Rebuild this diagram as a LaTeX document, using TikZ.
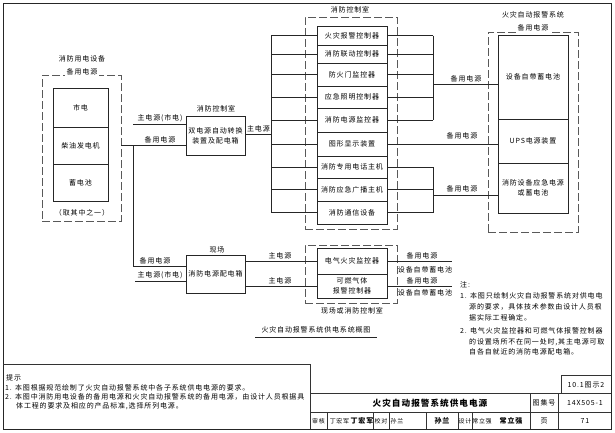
\documentclass[tikz,border=0pt]{standalone}
\usepackage{fontspec}
\setmainfont{Noto Sans CJK SC}[LetterSpace=12]
\newcommand\fs{\fontsize{7}{9}\selectfont}
\newcommand\sfsz{\fontsize{6}{7}\selectfont}
\newcommand\ttlfs{\fontsize{8.6}{10}\selectfont}
\begin{document}
\begin{tikzpicture}[x=1pt,y=-1pt,
  box/.style={draw=black!85, line width=0.9pt, inner sep=0pt, align=center, font=\fs},
  dbox/.style={draw=black!65, dash pattern=on 8pt off 3pt, line width=0.6pt, inner sep=0pt},
  ln/.style={draw=black!85, line width=0.9pt},
  tb/.style={draw=black!80, line width=0.6pt},
  lbl/.style={font=\fs, inner sep=0pt},
  sm/.style={font=\sfsz, inner sep=0pt},
  sig/.style={font=\fs\bfseries, inner sep=0pt},
  gap/.style={font=\fs, fill=white, inner xsep=2pt, inner ysep=2.5pt},
  note/.style={font=\fs, inner sep=0pt, anchor=west}]
\useasboundingbox (0,0) rectangle (615,432);
\fill[white] (0,0) rectangle (615,432);
% outer frame
\draw[draw=black!85, line width=1pt] (3,3) rectangle (611,429);

% ---------- dashed groups ----------
\node[dbox, minimum width=79pt, minimum height=146pt] (lgrp) at (81.5,148) {};
\node[dbox, minimum width=92pt, minimum height=212pt] (cgrp) at (351,123) {};
\node[dbox, minimum width=90pt, minimum height=200pt] (rgrp) at (533,132) {};
\node[dbox, minimum width=92pt, minimum height=58pt] (sgrp) at (351,274) {};

\node[lbl] (lt1) at (82,59) {消防用电设备};
\node[gap] (lt2) at (82,72) {备用电源};
\node[lbl] (lt3) at (82,213) {（取其中之一）};
\node[lbl] (ct) at (350,10) {消防控制室};
\node[lbl] (rt1) at (533,15) {火灾自动报警系统};
\node[gap] (rt2) at (533,28) {备用电源};
\node[lbl] (st) at (352,311) {现场或消防控制室};

% ---------- left power sources ----------
\node[box, minimum width=55pt, minimum height=39pt] (m1) at (80.5,107.5) {市电};
\node[box, minimum width=55pt, minimum height=37pt] (m2) at (80.5,145.5) {柴油发电机};
\node[box, minimum width=55pt, minimum height=37pt] (m3) at (80.5,182.5) {蓄电池};

% ---------- switch boxes ----------
\node[box, minimum width=59pt, minimum height=39pt] (dual) at (215.5,135.5) {双电源自动转换\\[1pt]装置及配电箱};
\node[lbl] (dualt) at (216,109) {消防控制室};
\node[box, minimum width=59pt, minimum height=38pt] (site) at (215.5,274) {消防电源配电箱};
\node[lbl] (sitet) at (217,250) {现场};

% ---------- control room rows ----------
\node[box, minimum width=70pt, minimum height=19pt] (r1) at (352,35.5) {火灾报警控制器};
\node[box, minimum width=70pt, minimum height=18pt] (r2) at (352,54) {消防联动控制器};
\node[box, minimum width=70pt, minimum height=23pt] (r3) at (352,74.5) {防火门监控器};
\node[box, minimum width=70pt, minimum height=22pt] (r4) at (352,97) {应急照明控制器};
\node[box, minimum width=70pt, minimum height=24pt] (r5) at (352,120) {消防电源监控器};
\node[box, minimum width=70pt, minimum height=24pt] (r6) at (352,144) {图形显示装置};
\node[box, minimum width=70pt, minimum height=22pt] (r7) at (352,167) {消防专用电话主机};
\node[box, minimum width=70pt, minimum height=23pt] (r8) at (352,189.5) {消防应急广播主机};
\node[box, minimum width=70pt, minimum height=23pt] (r9) at (352,212.5) {消防通信设备};

% ---------- right backup sources ----------
\node[box, minimum width=70pt, minimum height=84pt] (b1) at (533,77) {设备自带蓄电池};
\node[box, minimum width=70pt, minimum height=44pt] (b2) at (533,141) {UPS电源装置};
\node[box, minimum width=70pt, minimum height=50pt] (b3) at (533,188) {消防设备应急电源\\[1pt]或蓄电池};

% ---------- site devices ----------
\node[box, minimum width=70pt, minimum height=26pt] (efm) at (352,261) {电气火灾监控器};
\node[box, minimum width=70pt, minimum height=24pt] (gas) at (352,286) {可燃气体\\[1pt]报警控制器};

% ---------- connectors: left ----------
\coordinate (J) at (133,145);
\coordinate (J2) at (133,266);
\coordinate (M1) at (133,124);
\coordinate (M2) at (135,281);
\draw[ln] (lgrp.east |- J) -- (dual.west |- J);
\draw[ln] (J) -- (J2) -- (site.west |- J2);
\draw[ln] (M1) -- (dual.west |- M1);
\draw[ln] (M2) -- (site.west |- M2);
\node[lbl] (l1) at (160,118) {主电源(市电)};
\node[lbl] (l2) at (160,140) {备用电源};
\node[lbl] (l3) at (155,261) {备用电源};
\node[lbl] (l4) at (160,275) {主电源(市电)};

% ---------- connectors: bus ----------
\coordinate (B) at (271,134);
\draw[ln] (dual.east |- B) -- (B);
\node[lbl] (l5) at (258.5,129) {主电源};
\draw[ln] (B |- r1.west) -- (B |- r9.west);
\foreach \r in {r1,r2,r3,r4,r5,r6,r7,r8,r9}
  \draw[ln] (B |- \r.west) -- (\r.west);

% ---------- connectors: right ----------
\coordinate (RA) at (433,84);
\coordinate (RB) at (433,195);
\foreach \r in {r1,r2,r3,r4,r5}
  \draw[ln] (\r.east) -- (RA |- \r.east);
\foreach \r in {r7,r8,r9}
  \draw[ln] (\r.east) -- (RB |- \r.east);
\draw[ln] (RA |- r1.east) -- (RA |- r5.east);
\draw[ln] (RB |- r7.east) -- (RB |- r9.east);
\draw[ln] (RA) -- (b1.west |- RA);
\draw[ln] (r6.east) -- (b2.west |- r6.east);
\draw[ln] (RB) -- (b3.west |- RB);
\node[lbl] (l6) at (466,79) {备用电源};
\node[lbl] (l7) at (462,136) {备用电源};
\node[lbl] (l8) at (462,189) {备用电源};

% ---------- connectors: site ----------
\draw[ln] (site.east |- efm.west) -- (efm.west);
\draw[ln] (site.east |- gas.west) -- (gas.west);
\node[lbl] (l9) at (280,256) {主电源};
\node[lbl] (l10) at (280,281) {主电源};
\coordinate (E1) at (452,261);
\coordinate (E2) at (452,286);
\draw[ln] (efm.east) -- (E1);
\draw[ln] (gas.east) -- (E2);
\node[lbl] (l11) at (422,256) {备用电源};
\node[lbl] (l12) at (425,270) {设备自带蓄电池};
\node[lbl] (l13) at (422,281) {备用电源};
\node[lbl] (l14) at (425,293) {设备自带蓄电池};

% ---------- caption ----------
\node[lbl] (cap) at (316,330) {火灾自动报警系统供电系统概图};
\draw[ln] (255,337) -- (377,337);

% ---------- notes ----------
\node[note] (n0) at (460,285) {注:};
\node[note] (n1) at (460,296) {1. 本图只绘制火灾自动报警系统对供电电};
\node[note] (n2) at (469,307) {源的要求，具体技术参数由设计人员根};
\node[note] (n3) at (469,318) {据实际工程确定。};
\node[note] (n4) at (460,331) {2. 电气火灾监控器和可燃气体报警控制器};
\node[note] (n5) at (469,342) {的设置场所不在同一处时,其主电源可取};
\node[note] (n6) at (469,352) {自各自就近的消防电源配电箱。};

% ---------- hint box ----------
\draw[tb] (3,364) -- (310,364) -- (310,429);
\node[note] (h0) at (6,378) {提示};
\node[note] (h1) at (5,388) {1. 本图根据规范绘制了火灾自动报警系统中各子系统供电电源的要求。};
\node[note] (h2) at (5,397) {2. 本图中消防用电设备的备用电源和火灾自动报警系统的备用电源，由设计人员根据具};
\node[note] (h3) at (16,406) {体工程的要求及相应的产品标准,选择所列电源。};

% ---------- title block ----------
\draw[tb] (310,393) -- (611,393);
\draw[tb] (310,412) -- (611,412);
\draw[tb] (561,375) -- (611,375);
\draw[tb] (561,375) -- (561,393);
\foreach \x in {530,558} \draw[tb] (\x,393) -- (\x,429);
\foreach \x in {327,373,389,426,458,472} \draw[tb] (\x,412) -- (\x,429);
\node[lbl] (t0) at (586,385) {10.1图示2};
\node[lbl, font=\ttlfs\bfseries] (t1) at (430,403) {火灾自动报警系统供电电源};
\node[lbl] (t2) at (544,403) {图集号};
\node[lbl] (t3) at (585,403) {14X505-1};
\node[sm] (t4) at (318.5,421) {审核};
\node[sm] (t5) at (339.5,421) {丁宏军};
\node[sig] (t6) at (362,421) {丁宏军};
\node[sm] (t7) at (381,421) {校对};
\node[sm] (t8) at (397,421) {孙兰};
\node[sig] (t9) at (442,421) {孙兰};
\node[sm] (t10) at (465,421) {设计};
\node[sm] (t11) at (482,421) {常立强};
\node[sig] (t12) at (511,421) {常立强};
\node[lbl] (t13) at (544,421) {页};
\node[lbl] (t14) at (585,421) {71};
\end{tikzpicture}
\end{document}
